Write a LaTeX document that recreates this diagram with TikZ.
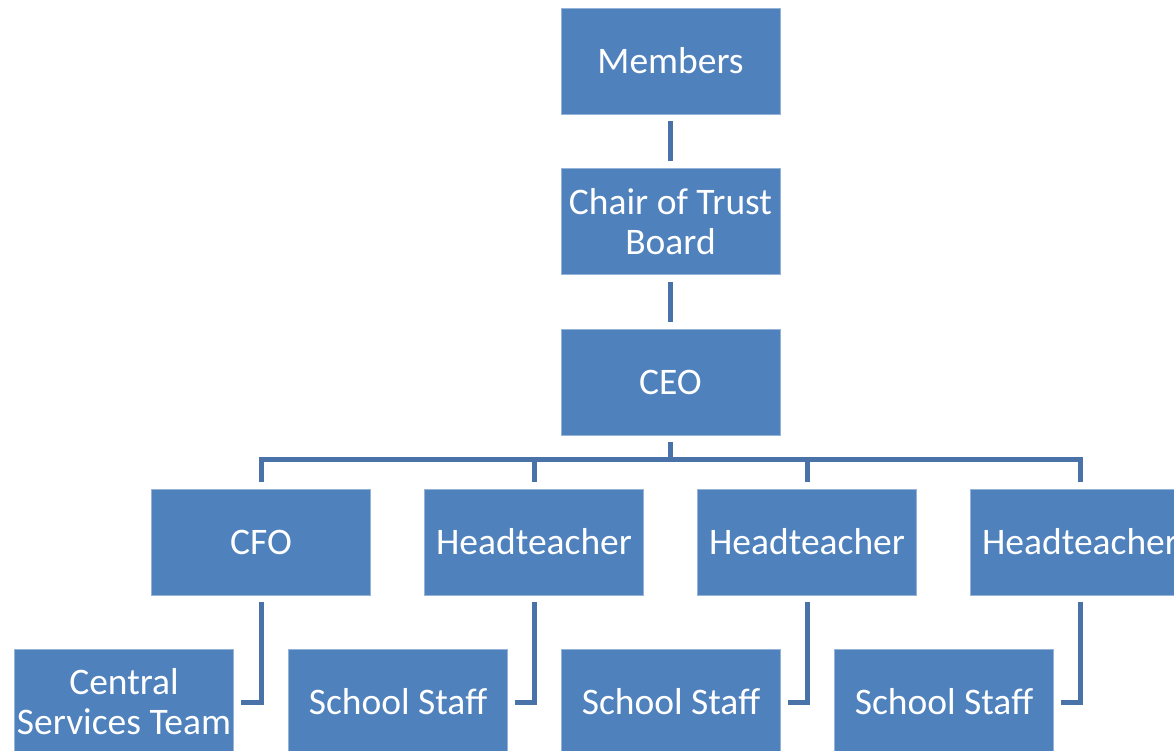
\documentclass[tikz,border=0pt]{standalone}
\usepackage{fontspec}
\setmainfont{Carlito}
\usetikzlibrary{positioning}
\definecolor{boxblue}{RGB}{79,129,189}
\definecolor{lineblue}{RGB}{72,114,168}
\tikzstyle{post}=[rectangle,fill=boxblue,draw=boxblue!60!white,line width=0.8pt,minimum width=219pt,minimum height=106pt,inner sep=2pt,text=white,align=center,font=\fontsize{37.5}{40}\selectfont]
\tikzstyle{link}=[draw=lineblue,line width=5pt]

\begin{document}
\begin{tikzpicture}[x=1pt,y=-1pt]
\useasboundingbox (0,0) rectangle (1174,750);
\clip (0,0) rectangle (1174,750);

\node[post] (members) at (670.5, 61) {Members};
\node[post] (chair) at (670.5, 221.5) {Chair of Trust\\Board};
\node[post] (ceo) at (670.5, 382) {CEO};

\node[post] (cfo) at (261, 542) {CFO};
\node[post] (ht1) at (534, 542) {Headteacher};
\node[post] (ht2) at (807, 542) {Headteacher};
\node[post] (ht3) at (1080, 542) {Headteacher};

\node[post] (cst) at (124, 702) {Central\\Services Team};
\node[post] (ss1) at (398, 702) {School Staff};
\node[post] (ss2) at (671, 702) {School Staff};
\node[post] (ss3) at (944, 702) {School Staff};

\draw[link] ([yshift=-7pt]members.south) -- ([yshift=7pt]chair.north);
\draw[link] ([yshift=-7pt]chair.south) -- ([yshift=7pt]ceo.north);

\foreach \p in {cfo,ht1,ht2,ht3}
  \draw[link] ([yshift=-7pt]ceo.south) |- ([yshift=29pt]\p.north) -- ([yshift=7pt]\p.north);

\draw[link] ([yshift=-7pt]cfo.south) |- ([xshift=7pt]cst.east);
\draw[link] ([yshift=-7pt]ht1.south) |- ([xshift=7pt]ss1.east);
\draw[link] ([yshift=-7pt]ht2.south) |- ([xshift=7pt]ss2.east);
\draw[link] ([yshift=-7pt]ht3.south) |- ([xshift=7pt]ss3.east);

\end{tikzpicture}
\end{document}
